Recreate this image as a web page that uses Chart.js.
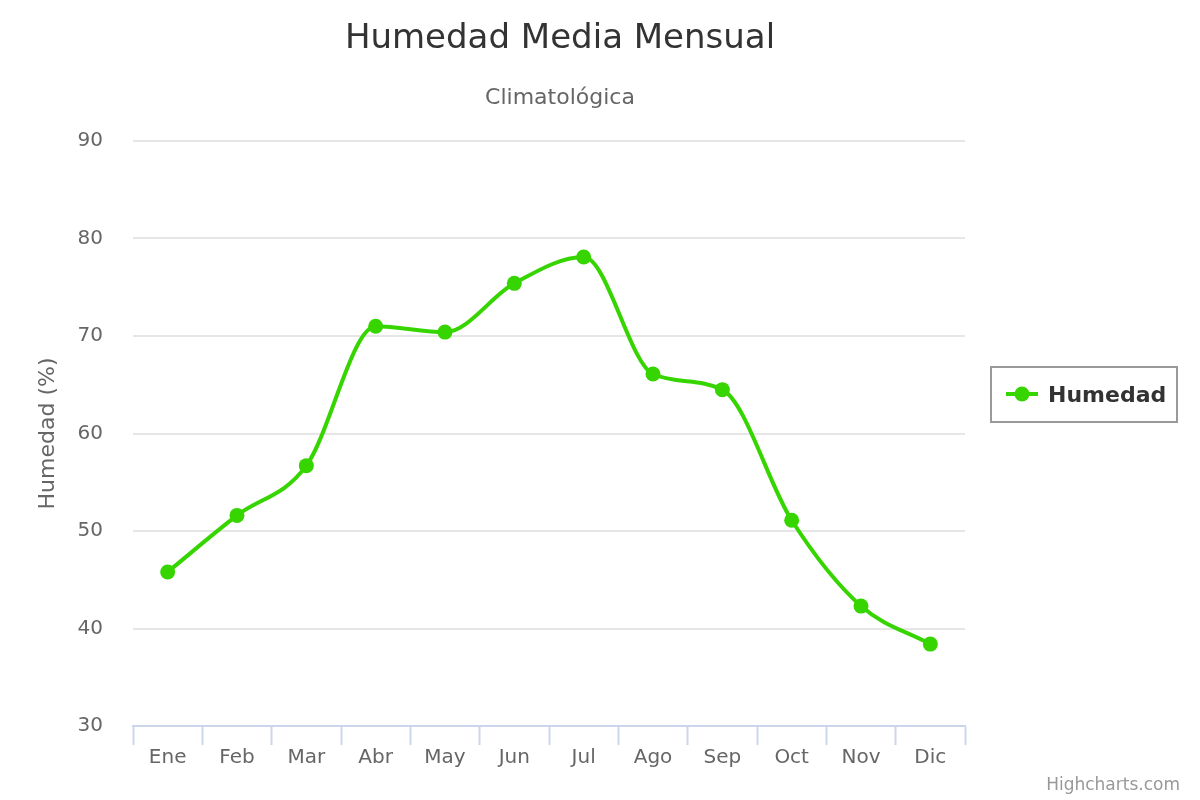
<!DOCTYPE html>
<html>
<head>
<meta charset="utf-8">
<title>Humedad Media Mensual</title>
<script src="https://cdn.jsdelivr.net/npm/chart.js@4/dist/chart.umd.min.js"></script>
<style>
  html, body { margin: 0; padding: 0; background: #fff; }
  #wrap { width: 1200px; height: 800px; position: relative; }
</style>
</head>
<body>
<div id="wrap"><canvas id="humChart" width="1200" height="800"></canvas></div>
<script>
// Chart data
const months = ['Ene', 'Feb', 'Mar', 'Abr', 'May', 'Jun', 'Jul', 'Ago', 'Sep', 'Oct', 'Nov', 'Dic'];
const humedad = [45.8, 51.6, 56.7, 71.0, 70.4, 75.4, 78.1, 66.1, 64.5, 51.1, 42.3, 38.4];
const yTicks = [30, 40, 50, 60, 70, 80, 90];

const FONT = '"DejaVu Sans", Verdana, sans-serif';
const GREEN = '#36d500';

// Title, subtitle, legend box and credits drawn on the canvas
const decorations = {
    id: 'decorations',
    afterDraw(chart) {
        const ctx = chart.ctx;
        ctx.save();
        ctx.textAlign = 'center';
        ctx.textBaseline = 'alphabetic';

        ctx.fillStyle = '#333333';
        ctx.font = '34px ' + FONT;
        ctx.fillText('Humedad Media Mensual', 560, 48);

        ctx.fillStyle = '#666666';
        ctx.font = '22px ' + FONT;
        ctx.fillText('Climatológica', 560, 104);

        // legend
        ctx.strokeStyle = '#999999';
        ctx.lineWidth = 2;
        ctx.strokeRect(991, 367, 186, 55);
        ctx.strokeStyle = GREEN;
        ctx.lineWidth = 4;
        ctx.beginPath();
        ctx.moveTo(1006, 394);
        ctx.lineTo(1038, 394);
        ctx.stroke();
        ctx.fillStyle = GREEN;
        ctx.beginPath();
        ctx.arc(1022, 394, 7.5, 0, Math.PI * 2);
        ctx.fill();
        ctx.fillStyle = '#333333';
        ctx.font = 'bold 22px ' + FONT;
        ctx.textAlign = 'left';
        ctx.fillText(chart.data.datasets[0].label, 1048, 402);

        // credits
        ctx.fillStyle = '#999999';
        ctx.font = '17px ' + FONT;
        ctx.textAlign = 'right';
        ctx.fillText('Highcharts.com', 1180, 790);
        ctx.restore();
    }
};

document.addEventListener('DOMContentLoaded', function() {
    const canvas = document.getElementById('humChart');
    new Chart(canvas, {
        type: 'line',
        data: {
            labels: months,
            datasets: [{
                label: 'Humedad',
                data: humedad,
                borderColor: GREEN,
                backgroundColor: GREEN,
                borderWidth: 4,
                cubicInterpolationMode: 'monotone',
                pointRadius: 7.5,
                pointHoverRadius: 7.5,
                pointBorderWidth: 0,
                fill: false
            }]
        },
        options: {
            responsive: false,
            animation: false,
            devicePixelRatio: 1,
            layout: {
                padding: { top: 141, right: 235, bottom: 24, left: 0 }
            },
            plugins: {
                legend: { display: false },
                title: { display: false },
                tooltip: { enabled: false }
            },
            scales: {
                x: {
                    offset: true,
                    afterFit(scale) { scale.height = 50; },
                    grid: {
                        offset: true,
                        drawOnChartArea: false,
                        drawTicks: true,
                        tickLength: 19,
                        tickWidth: 2,
                        tickColor: '#ccd6eb'
                    },
                    border: { display: true, color: '#ccd6eb', width: 2 },
                    ticks: {
                        color: '#666666',
                        font: { family: FONT, size: 20 },
                        padding: 1,
                        maxRotation: 0
                    }
                },
                y: {
                    min: 30,
                    max: 90,
                    afterFit(scale) { scale.width = 133; },
                    afterBuildTicks(scale) {
                        scale.ticks = yTicks.map(v => ({ value: v }));
                    },
                    grid: {
                        color: '#e6e6e6',
                        lineWidth: 2,
                        drawTicks: false
                    },
                    border: { display: false },
                    ticks: {
                        color: '#666666',
                        font: { family: FONT, size: 20 },
                        padding: 30
                    },
                    title: {
                        display: true,
                        text: 'Humedad (%)',
                        color: '#666666',
                        font: { family: FONT, size: 22 },
                        padding: { top: 35, bottom: 0 }
                    }
                }
            }
        },
        plugins: [decorations]
    });
});
</script>
</body>
</html>
